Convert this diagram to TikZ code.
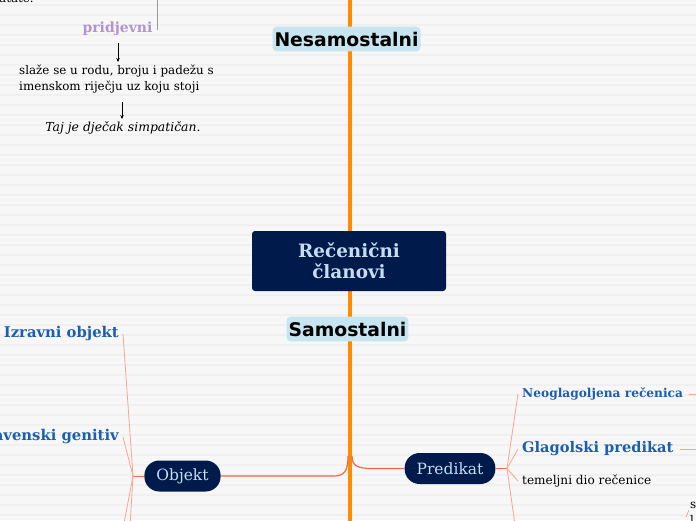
\documentclass[tikz,border=0pt]{standalone}
\usepackage{fontspec}
\setmainfont{DejaVu Serif}
\newfontfamily\vsans{DejaVu Sans}
\usetikzlibrary{arrows.meta}
\definecolor{bgc}{HTML}{F7F7F7}
\definecolor{stripe}{HTML}{F0F0F0}
\definecolor{trunkc}{HTML}{FF8C00}
\definecolor{navy}{HTML}{001B4B}
\definecolor{lighttxt}{HTML}{C8DCF0}
\definecolor{bluetxt}{HTML}{1C5FAE}
\definecolor{purp}{HTML}{B493CF}
\definecolor{mainconn}{HTML}{F0684A}
\definecolor{subconn}{HTML}{F5A592}
\definecolor{boxblue}{HTML}{C6E5F0}
\tikzset{
  x=1pt, y=-1pt,
  catbox/.style={fill=boxblue, rounded corners=4pt, inner xsep=2pt, inner ysep=5pt,
    font=\vsans\bfseries\fontsize{18.8}{21}\selectfont, text=black},
  central/.style={fill=navy, rounded corners=3pt, minimum width=194pt, minimum height=60pt,
    align=center, text=lighttxt, font=\bfseries\fontsize{18.4}{21}\selectfont},
  pill/.style={fill=navy, rounded corners=15pt, text=lighttxt, inner xsep=12pt,
    minimum height=31pt, font=\fontsize{15.5}{18}\selectfont},
  subtopic/.style={text=bluetxt, font=\bfseries\fontsize{14.8}{17}\selectfont, inner sep=0pt},
  plain/.style={text=black, font=\fontsize{11.9}{16}\selectfont, inner sep=0pt},
  conn/.style={draw=mainconn, line width=1.2pt},
  subc/.style={draw=subconn, line width=0.8pt},
  arr/.style={draw=black, line width=0.6pt, -{Stealth[length=4pt,width=3.5pt]}},
}
\begin{document}
\begin{tikzpicture}
\useasboundingbox (0,0) rectangle (696,520);
\clip (0,0) rectangle (696,520);
\fill[bgc] (0,0) rectangle (696,520);
\foreach \yy in {5,15,...,515} {\draw[stripe, line width=1.5pt] (0,\yy) -- (696,\yy);}
% trunk
\draw[trunkc, line width=4pt] (350,-5) -- (350,525);
% main nodes
\node[catbox] (nesam) at (346.5,39) {Nesamostalni};
\node[central] (cent) at (349,261) {Rečenični\\članovi};
\node[catbox] (samo) at (347.5,329) {Samostalni};
\node[pill] (objekt) at (182.5,476) {Objekt};
\node[pill] (pred) at (450,468.5) {Predikat};
\coordinate (tl) at (348,456);
\coordinate (tr) at (352,456);
\draw[conn] (objekt.east) -- (334,476) .. controls (345,476) and (348,470) .. (tl);
\draw[conn] (tr) .. controls (352,466) and (358,468.5) .. (372,468.5) -- (pred.west);
% objekt children
\coordinate (ohub) at (133,476);
\node[subtopic, anchor=east] (izr) at (119,334) {Izravni objekt};
\node[subtopic, anchor=east] (slav) at (119,437) {Slavenski genitiv};
\coordinate (ob1) at (117,560);
\coordinate (ob2) at (128,560);
\draw[conn, line width=1pt] (objekt.west) -- (ohub);
\draw[subc] (ohub) -- ([xshift=4pt]izr.east);
\draw[subc] (ohub) -- ([xshift=4pt]slav.east);
\draw[subc] (ohub) -- (ob1);
\draw[subc] (ohub) -- (ob2);
% predikat children
\coordinate (phub) at (507,468.5);
\node[subtopic, anchor=west, font=\bfseries\fontsize{12.2}{14}\selectfont] (neo) at (522,394) {Neoglagoljena rečenica};
\node[subtopic, anchor=west, font=\bfseries\fontsize{14.6}{18}\selectfont] (glag) at (522,449) {Glagolski predikat};
\node[plain, anchor=west, font=\fontsize{12.1}{14}\selectfont] (tem) at (522,481) {temeljni dio rečenice};
\coordinate (pb1) at (520,560);
\draw[conn, line width=1pt] (pred.east) -- (phub);
\draw[subc] (phub) -- ([xshift=-4pt]neo.west);
\draw[subc] (phub) -- ([xshift=-4pt]glag.west);
\draw[subc] (phub) -- ([xshift=-4pt]tem.west);
\draw[subc] (phub) -- (pb1);
\coordinate (neoe) at (700,394);
\coordinate (glage) at (700,449);
\draw[subc] ([xshift=6pt]neo.east) -- (neoe);
\draw[subc] ([xshift=6pt]glag.east) -- (glage);
\node[plain, anchor=north west, align=left] (rb) at (690,502) {s\\l};
\coordinate (rbc1) at (686,517);
\coordinate (rbc2) at (689,510);
\draw[subc] (rbc1) -- (rbc2);
% top-left nesamostalni branch
\node[plain, anchor=base west] (topt) at (-1,2) {atate.};
\node[text=purp, font=\bfseries\fontsize{14}{16}\selectfont, inner sep=0pt] (prid) at (117.5,29) {pridjevni};
\coordinate (gl1) at (157,-2);
\coordinate (gl2) at (157,30);
\draw[gray!80, line width=0.8pt] (gl1) -- (gl2);
\node[plain, anchor=north west, align=left] (slaze) at (19,65) {slaže se u rodu, broju i padežu s\\imenskom riječju uz koju stoji};
\node[plain, font=\itshape\fontsize{12.4}{14}\selectfont] (taj) at (123,128) {Taj je dječak simpatičan.};
\coordinate (a1s) at (118,43);
\coordinate (a1e) at (118,62);
\coordinate (a2s) at (122,102);
\coordinate (a2e) at (122,119);
\draw[arr] (a1s) -- (a1e);
\draw[arr] (a2s) -- (a2e);
\end{tikzpicture}
\end{document}
